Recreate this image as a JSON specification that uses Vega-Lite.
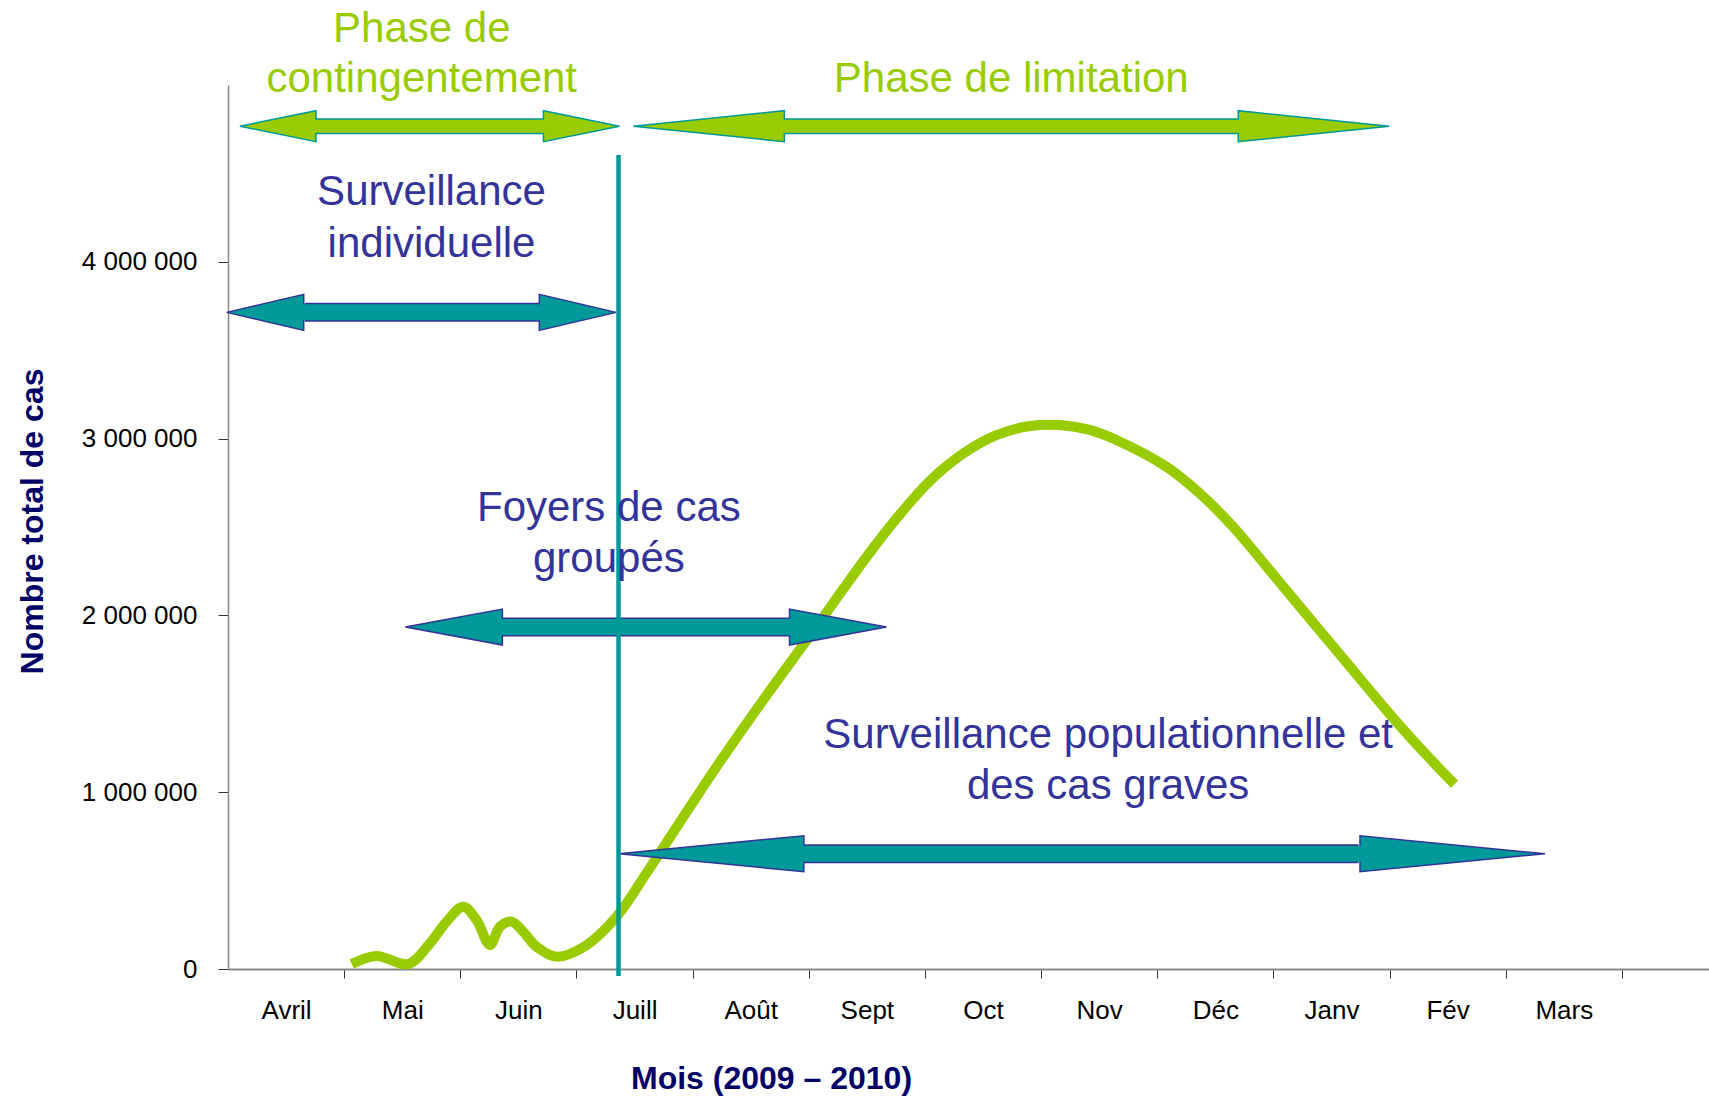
{
  "$schema": "https://vega.github.io/schema/vega-lite/v6.json",
  "width": 1481,
  "height": 884,
  "autosize": {"type": "none"},
  "padding": {"left": 228, "top": 85, "right": 0, "bottom": 127},
  "background": "white",
  "config": {
    "view": {"stroke": null},
    "font": "Liberation Sans",
    "axis": {"labelFont": "Liberation Sans", "titleFont": "Liberation Sans", "grid": false}
  },
  "datasets": {
    "curve": [
      {"mois": 1.065, "cas": 28000},
      {"mois": 1.279, "cas": 74000},
      {"mois": 1.552, "cas": 28000},
      {"mois": 1.738, "cas": 145000},
      {"mois": 1.882, "cas": 268000},
      {"mois": 2.025, "cas": 352000},
      {"mois": 2.14, "cas": 277000},
      {"mois": 2.255, "cas": 136000},
      {"mois": 2.341, "cas": 239000},
      {"mois": 2.441, "cas": 268000},
      {"mois": 2.541, "cas": 211000},
      {"mois": 2.656, "cas": 126000},
      {"mois": 2.829, "cas": 70000},
      {"mois": 3.058, "cas": 123000},
      {"mois": 3.345, "cas": 296000},
      {"mois": 3.6, "cas": 540000},
      {"mois": 3.89, "cas": 830000},
      {"mois": 4.206, "cas": 1144000},
      {"mois": 4.607, "cas": 1521000},
      {"mois": 4.837, "cas": 1729000},
      {"mois": 5.066, "cas": 1936000},
      {"mois": 5.295, "cas": 2148000},
      {"mois": 5.525, "cas": 2355000},
      {"mois": 5.755, "cas": 2548000},
      {"mois": 6.041, "cas": 2760000},
      {"mois": 6.328, "cas": 2915000},
      {"mois": 6.615, "cas": 3020000},
      {"mois": 6.902, "cas": 3071000},
      {"mois": 7.16, "cas": 3077000},
      {"mois": 7.418, "cas": 3049000},
      {"mois": 7.648, "cas": 2992000},
      {"mois": 8.078, "cas": 2841000},
      {"mois": 8.365, "cas": 2691000},
      {"mois": 8.652, "cas": 2502000},
      {"mois": 8.939, "cas": 2278000},
      {"mois": 9.225, "cas": 2052000},
      {"mois": 9.512, "cas": 1826000},
      {"mois": 9.799, "cas": 1600000},
      {"mois": 10.086, "cas": 1378000},
      {"mois": 10.373, "cas": 1172000},
      {"mois": 10.559, "cas": 1045000}
    ],
    "phaseArrows": [
      {"arrow": "contingentement", "start": 0.103, "baseStart": 0.757, "baseEnd": 2.717, "end": 3.37, "level": 4767000},
      {"arrow": "limitation", "start": 3.49, "baseStart": 4.791, "baseEnd": 8.701, "end": 9.997, "level": 4767000}
    ],
    "survArrows": [
      {"arrow": "individuelle", "start": -0.011, "baseStart": 0.661, "baseEnd": 2.689, "end": 3.343, "level": 3714000},
      {"arrow": "foyers", "start": 1.527, "baseStart": 2.362, "baseEnd": 4.836, "end": 5.669, "level": 1934000},
      {"arrow": "populationnelle", "start": 3.365, "baseStart": 4.951, "baseEnd": 9.733, "end": 11.338, "level": 652000}
    ],
    "juillet": [
      {"mois": 3.362, "haut": 4604000, "bas": -40000}
    ],
    "phaseLabels": [
      {"mois": 1.668, "cas": 5317000, "texte": "Phase de"},
      {"mois": 1.668, "cas": 5034000, "texte": "contingentement"},
      {"mois": 6.743, "cas": 5034000, "texte": "Phase de limitation"}
    ],
    "survLabels": [
      {"mois": 1.752, "cas": 4395000, "texte": "Surveillance"},
      {"mois": 1.752, "cas": 4101000, "texte": "individuelle"},
      {"mois": 3.279, "cas": 2607000, "texte": "Foyers de cas"},
      {"mois": 3.279, "cas": 2319000, "texte": "groupés"},
      {"mois": 7.577, "cas": 1326000, "texte": "Surveillance populationnelle et"},
      {"mois": 7.577, "cas": 1036000, "texte": "des cas graves"}
    ]
  },
  "layer": [
    {
      "data": {"name": "curve"},
      "mark": {"type": "line", "color": "#99CC00", "strokeWidth": 10, "interpolate": "catmull-rom", "strokeCap": "butt"},
      "encoding": {
        "x": {
          "field": "mois", "type": "quantitative",
          "scale": {"domain": [0, 12.75], "nice": false, "zero": false},
          "axis": {
            "title": "Mois (2009 – 2010)",
            "values": [0.5, 1, 1.5, 2, 2.5, 3, 3.5, 4, 4.5, 5, 5.5, 6, 6.5, 7, 7.5, 8, 8.5, 9, 9.5, 10, 10.5, 11, 11.5, 12],
            "labelExpr": "datum.value % 1 == 0 ? '' : ['Avril','Mai','Juin','Juill','Août','Sept','Oct','Nov','Déc','Janv','Fév','Mars'][floor(datum.value)]",
            "tickOpacity": {"condition": {"test": "datum.value % 1 != 0", "value": 0}, "value": 1},
            "tickSize": 9, "tickColor": "#333333", "tickWidth": 1,
            "domainColor": "#888888", "domainWidth": 2,
            "labelFontSize": 26, "labelColor": "#000000", "labelPadding": 19,
            "labelOverlap": false, "labelFlush": false,
            "titleFontSize": 32, "titleFontWeight": "bold", "titleColor": "#000066",
            "titleX": 543, "titleY": 109, "titleBaseline": "middle", "titleAlign": "center"
          }
        },
        "y": {
          "field": "cas", "type": "quantitative",
          "scale": {"domain": [0, 5000000], "nice": false, "zero": false},
          "axis": {
            "title": "Nombre total de cas",
            "values": [0, 1000000, 2000000, 3000000, 4000000],
            "labelExpr": "datum.value == 0 ? '0' : format(datum.value / 1000000, 'd') + ' 000 000'",
            "tickSize": 10, "tickColor": "#333333", "tickWidth": 1,
            "domainColor": "#888888", "domainWidth": 1.5,
            "labelFontSize": 26, "labelColor": "#000000", "labelPadding": 21,
            "titleFontSize": 32, "titleFontWeight": "bold", "titleColor": "#000066",
            "titleX": -196, "titleY": 436, "titleBaseline": "middle", "titleAlign": "center", "titleAngle": -90
          }
        }
      }
    },
    {
      "data": {"name": "phaseArrows"},
      "mark": {"type": "rule", "color": "#009999", "strokeWidth": 16, "strokeCap": "butt"},
      "encoding": {
        "x": {"field": "baseStart", "type": "quantitative", "scale": {"domain": [0, 12.75], "nice": false, "zero": false}},
        "x2": {"field": "baseEnd"},
        "y": {"field": "level", "type": "quantitative", "scale": {"domain": [0, 5000000], "nice": false, "zero": false}}
      }
    },
    {
      "data": {"name": "survArrows"},
      "mark": {"type": "rule", "color": "#333399", "strokeWidth": 19, "strokeCap": "butt"},
      "encoding": {
        "x": {"field": "baseStart", "type": "quantitative", "scale": {"domain": [0, 12.75], "nice": false, "zero": false}},
        "x2": {"field": "baseEnd"},
        "y": {"field": "level", "type": "quantitative", "scale": {"domain": [0, 5000000], "nice": false, "zero": false}}
      }
    },
    {
      "data": {"name": "phaseArrows"},
      "mark": {"type": "point", "filled": true, "fill": "#99CC00", "stroke": "#009999", "strokeWidth": 1.5, "size": 4, "opacity": 1},
      "encoding": {
        "x": {"field": "start", "type": "quantitative", "scale": {"domain": [0, 12.75], "nice": false, "zero": false}},
        "y": {"field": "level", "type": "quantitative", "scale": {"domain": [0, 5000000], "nice": false, "zero": false}},
        "shape": {"field": "arrow", "type": "nominal", "legend": null,
          "scale": {"domain": ["contingentement", "limitation", "individuelle", "foyers", "populationnelle"],
            "range": ["M0,0L76,-15.5L76,15.5Z", "M0,0L151,-15.5L151,15.5Z", "M0,0L77,-18L77,18Z", "M0,0L97,-18L97,18Z", "M0,0L185,-18L185,18Z"]}}
      }
    },
    {
      "data": {"name": "phaseArrows"},
      "mark": {"type": "point", "filled": true, "fill": "#99CC00", "stroke": "#009999", "strokeWidth": 1.5, "size": 4, "opacity": 1, "angle": 180},
      "encoding": {
        "x": {"field": "end", "type": "quantitative", "scale": {"domain": [0, 12.75], "nice": false, "zero": false}},
        "y": {"field": "level", "type": "quantitative", "scale": {"domain": [0, 5000000], "nice": false, "zero": false}},
        "shape": {"field": "arrow", "type": "nominal", "legend": null,
          "scale": {"domain": ["contingentement", "limitation", "individuelle", "foyers", "populationnelle"],
            "range": ["M0,0L76,-15.5L76,15.5Z", "M0,0L151,-15.5L151,15.5Z", "M0,0L77,-18L77,18Z", "M0,0L97,-18L97,18Z", "M0,0L185,-18L185,18Z"]}}
      }
    },
    {
      "data": {"name": "survArrows"},
      "mark": {"type": "point", "filled": true, "fill": "#009999", "stroke": "#333399", "strokeWidth": 1.5, "size": 4, "opacity": 1},
      "encoding": {
        "x": {"field": "start", "type": "quantitative", "scale": {"domain": [0, 12.75], "nice": false, "zero": false}},
        "y": {"field": "level", "type": "quantitative", "scale": {"domain": [0, 5000000], "nice": false, "zero": false}},
        "shape": {"field": "arrow", "type": "nominal", "legend": null,
          "scale": {"domain": ["contingentement", "limitation", "individuelle", "foyers", "populationnelle"],
            "range": ["M0,0L76,-15.5L76,15.5Z", "M0,0L151,-15.5L151,15.5Z", "M0,0L77,-18L77,18Z", "M0,0L97,-18L97,18Z", "M0,0L185,-18L185,18Z"]}}
      }
    },
    {
      "data": {"name": "survArrows"},
      "mark": {"type": "point", "filled": true, "fill": "#009999", "stroke": "#333399", "strokeWidth": 1.5, "size": 4, "opacity": 1, "angle": 180},
      "encoding": {
        "x": {"field": "end", "type": "quantitative", "scale": {"domain": [0, 12.75], "nice": false, "zero": false}},
        "y": {"field": "level", "type": "quantitative", "scale": {"domain": [0, 5000000], "nice": false, "zero": false}},
        "shape": {"field": "arrow", "type": "nominal", "legend": null,
          "scale": {"domain": ["contingentement", "limitation", "individuelle", "foyers", "populationnelle"],
            "range": ["M0,0L76,-15.5L76,15.5Z", "M0,0L151,-15.5L151,15.5Z", "M0,0L77,-18L77,18Z", "M0,0L97,-18L97,18Z", "M0,0L185,-18L185,18Z"]}}
      }
    },
    {
      "data": {"name": "phaseArrows"},
      "mark": {"type": "rule", "color": "#99CC00", "strokeWidth": 13, "strokeCap": "square"},
      "encoding": {
        "x": {"field": "baseStart", "type": "quantitative", "scale": {"domain": [0, 12.75], "nice": false, "zero": false}},
        "x2": {"field": "baseEnd"},
        "y": {"field": "level", "type": "quantitative", "scale": {"domain": [0, 5000000], "nice": false, "zero": false}}
      }
    },
    {
      "data": {"name": "survArrows"},
      "mark": {"type": "rule", "color": "#009999", "strokeWidth": 16, "strokeCap": "square"},
      "encoding": {
        "x": {"field": "baseStart", "type": "quantitative", "scale": {"domain": [0, 12.75], "nice": false, "zero": false}},
        "x2": {"field": "baseEnd"},
        "y": {"field": "level", "type": "quantitative", "scale": {"domain": [0, 5000000], "nice": false, "zero": false}}
      }
    },
    {
      "data": {"name": "juillet"},
      "mark": {"type": "rule", "color": "#009999", "strokeWidth": 4.5},
      "encoding": {
        "x": {"field": "mois", "type": "quantitative", "scale": {"domain": [0, 12.75], "nice": false, "zero": false}},
        "y": {"field": "haut", "type": "quantitative", "scale": {"domain": [0, 5000000], "nice": false, "zero": false}},
        "y2": {"field": "bas"}
      }
    },
    {
      "data": {"name": "phaseLabels"},
      "mark": {"type": "text", "color": "#99CC00", "fontSize": 42, "font": "Liberation Sans", "align": "center", "baseline": "middle"},
      "encoding": {
        "x": {"field": "mois", "type": "quantitative", "scale": {"domain": [0, 12.75], "nice": false, "zero": false}},
        "y": {"field": "cas", "type": "quantitative", "scale": {"domain": [0, 5000000], "nice": false, "zero": false}},
        "text": {"field": "texte", "type": "nominal"}
      }
    },
    {
      "data": {"name": "survLabels"},
      "mark": {"type": "text", "color": "#333399", "fontSize": 42, "font": "Liberation Sans", "align": "center", "baseline": "middle"},
      "encoding": {
        "x": {"field": "mois", "type": "quantitative", "scale": {"domain": [0, 12.75], "nice": false, "zero": false}},
        "y": {"field": "cas", "type": "quantitative", "scale": {"domain": [0, 5000000], "nice": false, "zero": false}},
        "text": {"field": "texte", "type": "nominal"}
      }
    }
  ]
}
